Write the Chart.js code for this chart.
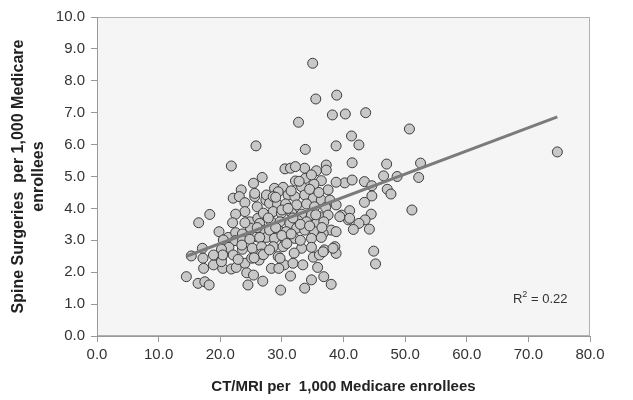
<!DOCTYPE html>
<html>
<head>
<meta charset="utf-8">
<title>Spine surgery vs CT/MRI</title>
<style>
  body { margin: 0; background: #ffffff; }
  #wrap { width: 633px; height: 400px; }
</style>
</head>
<body>
<div id="wrap">
  <canvas id="myChart" width="633" height="400"></canvas>
</div>

<script src="https://cdn.jsdelivr.net/npm/chart.js"></script>

<script>
  // CT/MRI rate per region (x) and spine surgery rate (y)
  const ctMri = [
    35.0, 35.5, 38.9, 32.7, 43.6, 40.3, 38.2, 25.8, 50.7, 41.3, 42.5, 38.8, 33.8, 21.8, 41.4, 47.0, 52.5, 74.7,
    40.2, 41.4, 43.4, 44.6, 46.5, 48.7, 52.2, 47.1, 47.7, 44.6, 43.4, 51.1, 41.0, 40.8, 44.5, 43.5, 42.5, 41.6, 44.2, 44.9, 45.2,
    26.8, 25.4, 23.4, 22.1, 23.1, 24.0, 25.6, 27.4, 24.0, 22.5, 18.3, 16.5, 24.8, 26.1, 26.4, 24.9, 19.8, 21.3, 22.5, 23.6,
    25.9, 27.2, 27.5, 20.5, 22.4, 23.6, 24.8, 26.4, 21.4, 23.6, 25.2, 26.7, 17.1, 20.2, 22.1, 20.2, 17.2, 15.3, 18.9, 17.3,
    20.4, 21.8, 22.6, 24.0, 26.3, 24.3, 25.4, 14.5, 16.4, 17.5, 18.2, 24.5, 26.9, 25.1, 26.7, 22.9,
    30.5, 31.4, 33.7, 35.6, 37.2, 37.2, 32.2, 33.8, 36.4, 35.2, 38.8, 28.8, 30.2, 33.2, 37.5, 27.5, 29.4, 31.0, 32.1, 33.7,
    35.1, 36.4, 37.8, 38.8, 28.0, 29.3, 30.6, 32.4, 34.0, 35.3, 37.1, 39.7, 28.6, 29.9, 31.6, 33.2, 34.8, 36.1, 37.5, 28.3,
    29.7, 31.3, 32.6, 34.0, 35.6, 36.8, 38.0, 38.8, 28.0, 29.4, 30.7, 32.4, 33.7, 35.3, 36.7, 28.8, 30.5, 32.1, 34.8, 36.4,
    28.6, 30.2, 33.2, 34.8, 36.9, 38.6, 38.8, 29.4, 35.1, 36.1, 30.4, 31.8, 33.4, 28.3, 29.5, 35.8, 31.4, 36.8, 34.8, 38.0,
    33.7, 29.8,
    25.6, 28.6, 20.2, 29.7, 20.4, 18.9, 36.7, 38.3, 32.2, 39.4, 41.0,
    26.0, 27.0, 27.8, 30.0, 31.0, 31.8, 29.0, 30.0, 31.5, 33.0, 33.0, 34.5, 35.5, 36.5, 30.8, 32.0, 27.0, 28.0, 26.0, 24.0,
    22.0, 23.5, 25.5, 29.0, 31.5, 34.5, 36.0, 32.8, 34.8
  ];
  const surgeries = [
    8.55, 7.43, 7.55, 6.70, 7.00, 6.96, 6.93, 5.96, 6.49, 6.27, 5.99, 5.96, 5.85, 5.33, 5.43, 5.39, 5.42, 5.77,
    4.80, 4.89, 4.84, 4.71, 5.02, 5.00, 4.97, 4.60, 4.45, 4.39, 4.19, 3.95, 3.93, 3.64, 3.82, 3.64, 3.53, 3.34, 3.35, 2.66, 2.26,
    4.97, 4.79, 4.58, 4.32, 4.37, 4.18, 4.37, 4.26, 3.90, 3.82, 3.81, 3.55, 3.58, 3.69, 3.53, 3.38, 3.27, 3.09, 3.24, 3.20,
    3.11, 3.32, 3.09, 3.01, 2.99, 2.99, 3.03, 3.09, 2.78, 2.72, 2.75, 2.80, 2.75, 2.72, 2.54, 2.44, 2.44, 2.51, 2.23, 2.12,
    2.12, 2.10, 2.15, 2.28, 2.38, 1.98, 1.91, 1.86, 1.65, 1.70, 1.60, 1.60, 1.72, 2.44, 2.57, 2.40,
    5.24, 5.26, 5.26, 5.18, 5.36, 5.20, 4.86, 4.94, 4.87, 4.76, 4.82, 4.63, 4.66, 4.68, 4.58, 4.42, 4.52, 4.42, 4.37, 4.42,
    4.32, 4.26, 4.26, 4.11, 4.16, 4.13, 4.14, 4.11, 4.14, 4.05, 4.03, 3.79, 3.90, 3.85, 3.85, 3.82, 3.79, 3.74, 3.79, 3.58,
    3.58, 3.53, 3.62, 3.58, 3.53, 3.58, 3.32, 3.27, 3.32, 3.32, 3.27, 3.38, 3.32, 3.27, 3.22, 3.06, 3.01, 3.06, 3.06, 3.09,
    2.80, 2.80, 2.75, 2.78, 2.70, 2.80, 2.59, 2.49, 2.47, 2.54, 2.23, 2.28, 2.23, 2.12, 2.12, 2.15, 1.88, 1.86, 1.76, 1.62,
    1.50, 1.44,
    4.47, 4.37, 2.33, 2.44, 2.54, 2.54, 2.64, 2.75, 5.31, 3.74, 3.69,
    4.05, 3.85, 3.70, 3.95, 4.00, 3.70, 3.40, 3.15, 3.20, 3.50, 3.00, 3.45, 3.80, 3.40, 2.90, 2.60, 2.55, 2.70, 3.40, 3.55,
    3.55, 2.85, 2.45, 4.35, 4.55, 4.60, 4.50, 4.85, 5.05
  ];

  // fitted trend line end points (R^2 = 0.22)
  const trendX = [14.5, 74.7];
  const trendY = [2.50, 6.87];
  const rSquared = '0.22';

  const xTicks = [0, 10, 20, 30, 40, 50, 60, 70, 80];
  const yTicks = [0, 1, 2, 3, 4, 5, 6, 7, 8, 9, 10];

  const fontFamily = '"Liberation Sans", Arial, sans-serif';

  const points = ctMri.map((x, i) => ({ x: x, y: surgeries[i] }));
  const trend = trendX.map((x, i) => ({ x: x, y: trendY[i] }));

  // light grey plot area with a thin frame
  const plotBackground = {
    id: 'plotBackground',
    beforeDraw(chart) {
      const { ctx, chartArea: a } = chart;
      ctx.save();
      ctx.fillStyle = '#f5f5f5';
      ctx.fillRect(a.left, a.top, a.right - a.left, a.bottom - a.top);
      ctx.strokeStyle = '#b0b0b0';
      ctx.lineWidth = 1;
      ctx.strokeRect(a.left + 0.5, a.top + 0.5, a.right - a.left - 1, a.bottom - a.top - 1);
      ctx.restore();
    }
  };

  // R² label in the lower right corner
  const rLabel = {
    id: 'rLabel',
    afterDraw(chart) {
      const { ctx, scales } = chart;
      let px = scales.x.getPixelForValue(67.5);
      const py = scales.y.getPixelForValue(1.05);
      ctx.save();
      ctx.fillStyle = '#333';
      ctx.textBaseline = 'alphabetic';
      ctx.textAlign = 'left';
      ctx.font = '13px ' + fontFamily;
      ctx.fillText('R', px, py);
      px += ctx.measureText('R').width;
      ctx.font = '9px ' + fontFamily;
      ctx.fillText('2', px, py - 6);
      px += ctx.measureText('2').width;
      ctx.font = '13px ' + fontFamily;
      ctx.fillText(' = ' + rSquared, px, py);
      ctx.restore();
    }
  };

  const ctx = document.getElementById('myChart');

  new Chart(ctx, {
    type: 'scatter',
    data: {
      datasets: [{
        type: 'line',
        label: 'Trend',
        data: trend,
        borderColor: '#7b7b7b',
        borderWidth: 3,
        pointRadius: 0,
        fill: false,
        order: 0
      }, {
        label: 'Regions',
        data: points,
        pointRadius: 5,
        pointBackgroundColor: '#c8c8c8',
        pointBorderColor: '#3c3c3c',
        pointBorderWidth: 1,
        order: 1
      }]
    },
    options: {
      responsive: false,
      animation: false,
      events: [],
      layout: { padding: { top: 17, right: 43, left: 0, bottom: 0 } },
      plugins: {
        legend: { display: false },
        tooltip: { enabled: false }
      },
      scales: {
        x: {
          type: 'linear',
          min: 0,
          max: 80,
          afterBuildTicks: (scale) => { scale.ticks = xTicks.map(v => ({ value: v })); },
          afterFit: (scale) => { scale.height = 64; },
          ticks: {
            callback: (v) => Number(v).toFixed(1),
            font: { family: fontFamily, size: 15 },
            color: '#333',
            padding: 4,
            maxRotation: 0
          },
          grid: { drawOnChartArea: false, tickLength: 6, color: '#999' },
          border: { color: '#999' },
          title: {
            display: true,
            text: 'CT/MRI per  1,000 Medicare enrollees',
            font: { family: fontFamily, size: 15, weight: 'bold' },
            color: '#222',
            padding: { top: 8 }
          }
        },
        y: {
          min: 0,
          max: 10,
          afterBuildTicks: (scale) => { scale.ticks = yTicks.map(v => ({ value: v })); },
          afterFit: (scale) => { scale.width = 97; },
          ticks: {
            callback: (v) => Number(v).toFixed(1),
            font: { family: fontFamily, size: 15 },
            color: '#333',
            padding: 6
          },
          grid: { drawOnChartArea: false, tickLength: 6, color: '#999' },
          border: { color: '#999' },
          title: {
            display: true,
            text: ['Spine Surgeries  per 1,000 Medicare', 'enrollees'],
            font: { family: fontFamily, size: 16, weight: 'bold', lineHeight: 1.25 },
            color: '#222',
            padding: { top: 9, bottom: 0 }
          }
        }
      }
    },
    plugins: [plotBackground, rLabel]
  });
</script>
</body>
</html>
